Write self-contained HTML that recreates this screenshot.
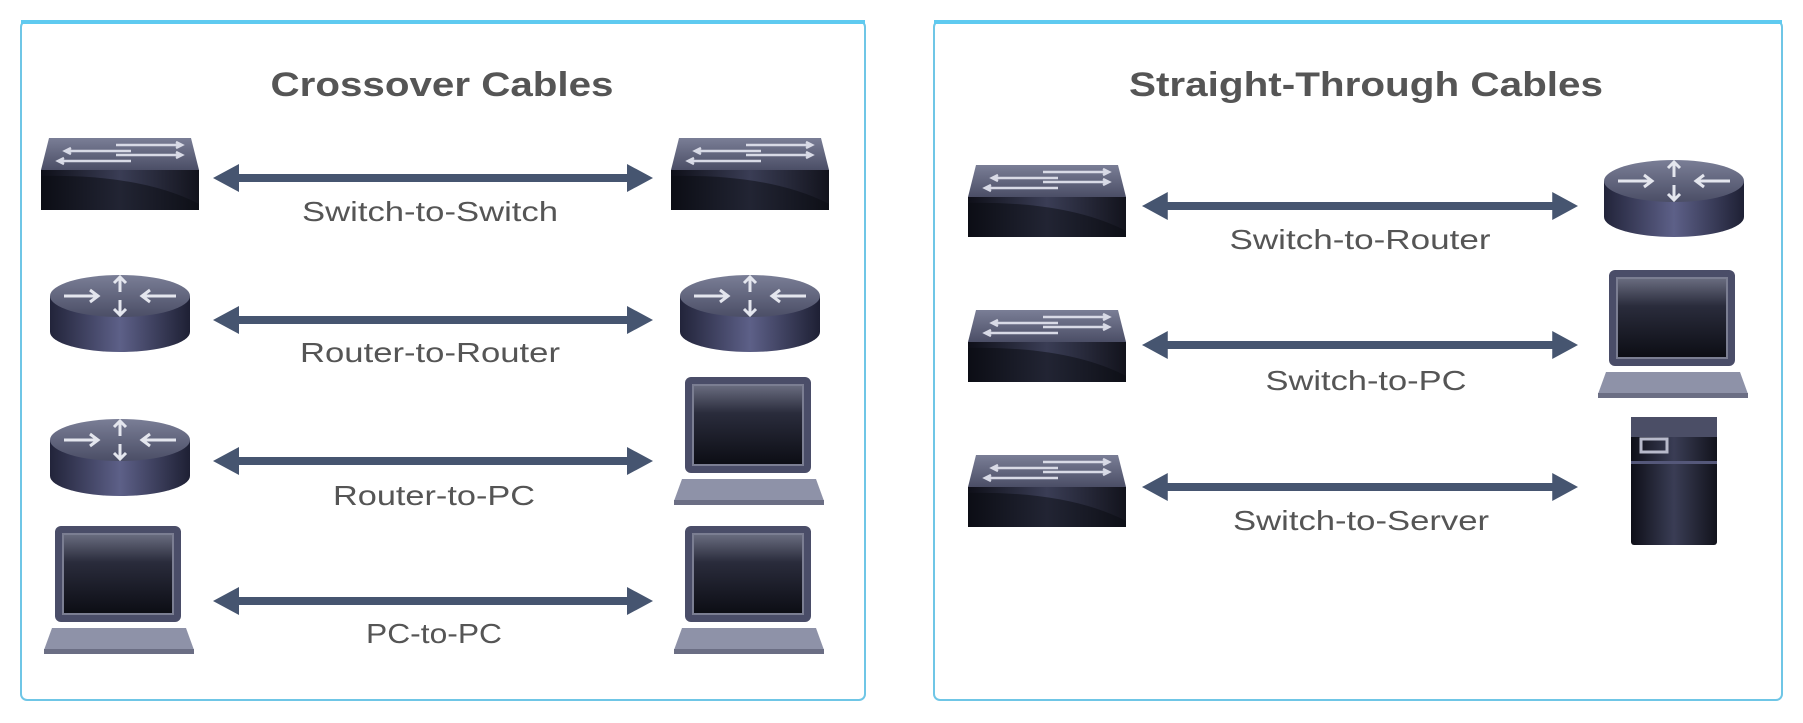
<!DOCTYPE html>
<html><head><meta charset="utf-8"><style>
html,body{margin:0;padding:0;background:#fff;}
svg{display:block}
text{font-family:"Liberation Sans",Arial,sans-serif;fill:#555;}
</style></head><body>
<svg width="1803" height="723" viewBox="0 0 1803 723" xmlns="http://www.w3.org/2000/svg">
<defs>
<linearGradient id="front" x1="0" y1="0" x2="1" y2="0">
<stop offset="0" stop-color="#0e0f18"/><stop offset="0.5" stop-color="#3a3d55"/><stop offset="1" stop-color="#12131c"/></linearGradient>
<linearGradient id="topf" x1="0" y1="0" x2="0" y2="1">
<stop offset="0" stop-color="#7a7e96"/><stop offset="1" stop-color="#4b4e66"/></linearGradient>
<linearGradient id="cyl" x1="0" y1="0" x2="1" y2="0">
<stop offset="0" stop-color="#22243a"/><stop offset="0.5" stop-color="#5d6088"/><stop offset="1" stop-color="#1e2034"/></linearGradient>
<linearGradient id="scr" x1="0" y1="0" x2="0" y2="1">
<stop offset="0" stop-color="#6a6d80"/><stop offset="0.35" stop-color="#2a2c3c"/><stop offset="1" stop-color="#0c0d14"/></linearGradient>
<symbol id="sw" viewBox="0 0 158 72">
<path d="M8 0 H150 L158 32 H0 Z" fill="url(#topf)"/>
<rect x="0" y="32" width="158" height="40" fill="url(#front)"/>
<path d="M0 38 Q100 36 158 66 V72 H0Z" fill="#0a0b12" opacity="0.5"/>
<g stroke="#d8dae6" stroke-width="2.5" fill="none">
<path d="M75 7 H140 M135 4 L141 7 L135 10"/><path d="M75 17 H140 M135 14 L141 17 L135 20"/>
<path d="M90 13 H25 M30 10 L24 13 L30 16"/><path d="M90 23 H18 M23 20 L17 23 L23 26"/></g>
</symbol>
<symbol id="rt" viewBox="0 0 140 78">
<path d="M0 22 V58 A70 20 0 0 0 140 58 V22Z" fill="url(#cyl)"/>
<ellipse cx="70" cy="22" rx="70" ry="21" fill="url(#topf)"/>
<g stroke="#e4e6ee" stroke-width="3" fill="none">
<path d="M14 22 H48 M40 16 L48 22 L40 28"/><path d="M126 22 H92 M100 16 L92 22 L100 28"/>
<path d="M70 18 V4 M64 9 L70 3 L76 9"/><path d="M70 26 V40 M64 35 L70 41 L76 35"/></g>
</symbol>
<symbol id="lp" viewBox="0 0 150 128">
<rect x="11" y="0" width="126" height="96" rx="6" fill="#4a4d68"/>
<rect x="19" y="8" width="110" height="80" fill="url(#scr)" stroke="#7b7e92" stroke-width="2"/>
<path d="M8 102 H142 L150 124 H0Z" fill="#8e92a8"/>
<rect x="0" y="123" width="150" height="5" fill="#6b6e84"/>
</symbol>
<symbol id="sv" viewBox="0 0 86 128">
<rect x="0" y="0" width="86" height="128" rx="3" fill="url(#front)"/>
<rect x="0" y="0" width="86" height="20" fill="#4b4e66"/>
<rect x="10" y="22" width="26" height="13" fill="none" stroke="#b8bacb" stroke-width="3"/>
<rect x="0" y="44" width="86" height="3" fill="#55587a"/>
</symbol>
<symbol id="arr" viewBox="0 0 440 30" preserveAspectRatio="none">
<path d="M0 15 L26 1 V11 H414 V1 L440 15 L414 29 V19 H26 V29Z" fill="#465570"/>
</symbol>
</defs>
<rect x="21" y="21" width="844" height="679" rx="6" fill="#fff" stroke="#6fc6e6" stroke-width="2"/>
<rect x="21" y="20" width="844" height="4" fill="#5fcaf0"/>
<rect x="934" y="21" width="848" height="679" rx="6" fill="#fff" stroke="#6fc6e6" stroke-width="2"/>
<rect x="934" y="20" width="848" height="4" fill="#5fcaf0"/>
<text x="442" y="96" text-anchor="middle" font-size="34" font-weight="bold" textLength="343" lengthAdjust="spacingAndGlyphs">Crossover Cables</text>
<text x="1366" y="96" text-anchor="middle" font-size="34" font-weight="bold" textLength="474" lengthAdjust="spacingAndGlyphs">Straight-Through Cables</text>

<use href="#sw" x="41" y="138" width="158" height="72"/>
<use href="#sw" x="671" y="138" width="158" height="72"/>
<use href="#arr" x="213" y="163" width="440" height="30"/>
<text x="430" y="221" text-anchor="middle" font-size="28" textLength="256" lengthAdjust="spacingAndGlyphs">Switch-to-Switch</text>

<use href="#rt" x="50" y="274" width="140" height="78"/>
<use href="#rt" x="680" y="274" width="140" height="78"/>
<use href="#arr" x="213" y="305" width="440" height="30"/>
<text x="430" y="362" text-anchor="middle" font-size="28" textLength="260" lengthAdjust="spacingAndGlyphs">Router-to-Router</text>

<use href="#rt" x="50" y="418" width="140" height="78"/>
<use href="#lp" x="674" y="377" width="150" height="128"/>
<use href="#arr" x="213" y="446" width="440" height="30"/>
<text x="434" y="505" text-anchor="middle" font-size="28" textLength="202" lengthAdjust="spacingAndGlyphs">Router-to-PC</text>

<use href="#lp" x="44" y="526" width="150" height="128"/>
<use href="#lp" x="674" y="526" width="150" height="128"/>
<use href="#arr" x="213" y="586" width="440" height="30"/>
<text x="434" y="643" text-anchor="middle" font-size="28" textLength="136" lengthAdjust="spacingAndGlyphs">PC-to-PC</text>

<use href="#sw" x="968" y="165" width="158" height="72"/>
<use href="#rt" x="1604" y="159" width="140" height="78"/>
<use href="#arr" x="1142" y="191" width="436" height="30"/>
<text x="1360" y="249" text-anchor="middle" font-size="28" textLength="261" lengthAdjust="spacingAndGlyphs">Switch-to-Router</text>

<use href="#sw" x="968" y="310" width="158" height="72"/>
<use href="#lp" x="1598" y="270" width="150" height="128"/>
<use href="#arr" x="1142" y="330" width="436" height="30"/>
<text x="1366" y="390" text-anchor="middle" font-size="28" textLength="201" lengthAdjust="spacingAndGlyphs">Switch-to-PC</text>

<use href="#sw" x="968" y="455" width="158" height="72"/>
<use href="#sv" x="1631" y="417" width="86" height="128"/>
<use href="#arr" x="1142" y="472" width="436" height="30"/>
<text x="1361" y="530" text-anchor="middle" font-size="28" textLength="256" lengthAdjust="spacingAndGlyphs">Switch-to-Server</text>
</svg>
</body></html>
